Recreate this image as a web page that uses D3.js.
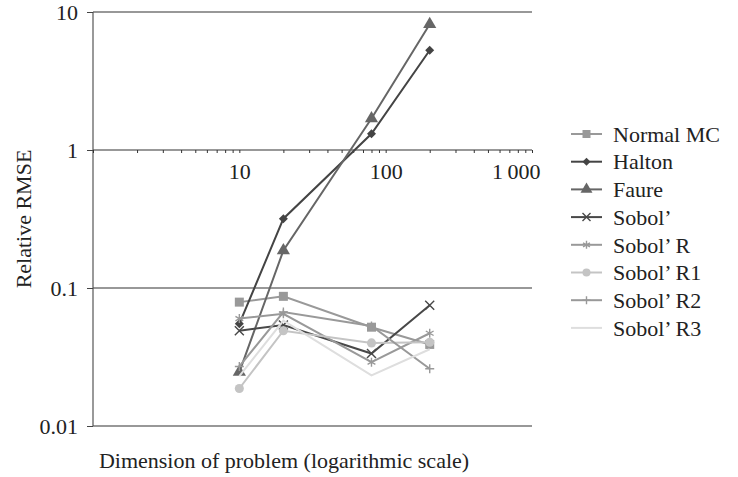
<!DOCTYPE html>
<html>
<head>
<meta charset="utf-8">
<script src="https://cdn.jsdelivr.net/npm/d3@7"></script>
</head>
<body style="margin:0;background:#fff">
<svg id="chart" width="738" height="477" style="font-family:'Liberation Serif';font-size:22px"></svg>
<script>
  // problem dimensions (x) and relative RMSE per method
  const dims = [10, 20, 80, 200];
  const normalMC = [0.079, 0.087, 0.052, 0.039];
  const halton = [0.055, 0.318, 1.31, 5.28];
  const faure = [0.0246, 0.187, 1.69, 8.15];
  const sobol = [0.049, 0.054, 0.0335, 0.075];
  const sobolR = [0.06, 0.065, 0.029, 0.047];
  const sobolR1 = [0.0187, 0.049, 0.04, 0.0405];
  const sobolR2 = [0.027, 0.067, 0.053, 0.026];
  const sobolR3 = [0.023, 0.058, 0.0233, 0.036];

  const xTicks = [10, 100, 1000];
  const xTickLabels = ["10", "100", "1\u2009000"];
  const yTicks = [10, 1, 0.1, 0.01];
  const yTickLabels = ["10", "1", "0.1", "0.01"];

  const series = [
    { name: "Normal MC", values: normalMC, color: "#999", marker: "square" },
    { name: "Halton", values: halton, color: "#444", marker: "diamond" },
    { name: "Faure", values: faure, color: "#666", marker: "triangle" },
    { name: "Sobol\u2019", values: sobol, color: "#484848", marker: "x" },
    { name: "Sobol\u2019 R", values: sobolR, color: "#999", marker: "asterisk" },
    { name: "Sobol\u2019 R1", values: sobolR1, color: "#c4c4c4", marker: "circle" },
    { name: "Sobol\u2019 R2", values: sobolR2, color: "#999", marker: "plus" },
    { name: "Sobol\u2019 R3", values: sobolR3, color: "#dedede", marker: "none" }
  ];

  const plot = { left: 93, right: 532, top: 12, bottom: 426 };
  const textStyle = "font-family:'Liberation Serif';font-size:22px";

  const x = d3.scaleLog().domain([1, 1000]).range([plot.left, plot.right]);
  const y = d3.scaleLog().domain([0.01, 10]).range([plot.bottom, plot.top]);

  const svg = d3.select("#chart");

  const styleText = (sel) => sel.attr("style", textStyle).attr("fill", "#222");

  // horizontal grid at each decade
  svg.append("g")
    .selectAll("line")
    .data(yTicks)
    .enter()
    .append("line")
    .attr("x1", plot.left)
    .attr("x2", plot.right)
    .attr("y1", (d) => y(d))
    .attr("y2", (d) => y(d))
    .attr("stroke", "#333")
    .attr("stroke-width", 1.2);

  // y axis
  const yAxis = svg.append("g")
    .attr("transform", `translate(${plot.left},0)`)
    .call(d3.axisLeft(y).tickValues(yTicks)
      .tickFormat((d, i) => yTickLabels[i]).tickSize(6).tickPadding(9));
  yAxis.attr("font-family", null).attr("font-size", null);
  yAxis.select(".domain").attr("stroke", "#555").attr("stroke-width", 1.2)
    .attr("d", `M0,${plot.top}V${plot.bottom}`);
  yAxis.selectAll(".tick line").attr("stroke", "#444");
  yAxis.selectAll("text").call(styleText);

  // x axis crosses at y = 1
  const minorTicks = x.ticks().filter((d) => d >= 1);
  const xAxis = svg.append("g")
    .attr("transform", `translate(0,${y(1)})`)
    .call(d3.axisBottom(x).tickValues(minorTicks)
      .tickFormat((d) => {
        const i = xTicks.indexOf(d);
        return i >= 0 ? xTickLabels[i] : "";
      }).tickSize(3).tickPadding(10));
  xAxis.attr("font-family", null).attr("font-size", null);
  xAxis.select(".domain").remove();
  xAxis.selectAll(".tick line").attr("stroke", "#333");
  xAxis.selectAll("text").call(styleText);
  xAxis.selectAll(".tick text")
    .filter((d) => d === 1000)
    .attr("text-anchor", "end")
    .attr("dx", 8);

  // series lines
  const line = d3.line()
    .x((d) => x(d.dim))
    .y((d) => y(d.value));

  const markerPath = (type, s) => {
    const h = s / 2;
    switch (type) {
      case "square":
        return d3.symbol(d3.symbolSquare, s * s)();
      case "diamond":
        return `M0,${-h}L${h},0L0,${h}L${-h},0Z`;
      case "triangle":
        return d3.symbol(d3.symbolTriangle, s * s * 0.62)();
      case "circle":
        return d3.symbol(d3.symbolCircle, s * s * 0.8)();
      case "x":
        return `M${-h},${-h}L${h},${h}M${-h},${h}L${h},${-h}`;
      case "plus":
        return `M${-h},0L${h},0M0,${-h}L0,${h}`;
      case "asterisk": {
        const a = h * 0.866, b = h * 0.5;
        return `M0,${-h}L0,${h}M${-a},${-b}L${a},${b}M${-a},${b}L${a},${-b}`;
      }
      default:
        return "";
    }
  };
  const isStroke = (t) => t === "x" || t === "plus" || t === "asterisk";

  const drawMarker = (g, s, size) => {
    if (s.marker === "none") return;
    g.attr("d", markerPath(s.marker, size))
      .attr("fill", isStroke(s.marker) ? "none" : s.color)
      .attr("stroke", isStroke(s.marker) ? s.color : "none")
      .attr("stroke-width", 1.4);
  };

  series.forEach((s) => {
    const data = dims.map((d, i) => ({ dim: d, value: s.values[i] }));
    svg.append("path")
      .datum(data)
      .attr("fill", "none")
      .attr("stroke", s.color)
      .attr("stroke-width", 2)
      .attr("d", line);

    svg.append("g")
      .selectAll("path")
      .data(data)
      .enter()
      .append("path")
      .attr("transform", (d) => `translate(${x(d.dim)},${y(d.value)})`)
      .each(function () {
        drawMarker(d3.select(this), s, s.marker === "triangle" ? 11 : 9);
      });
  });

  // legend
  const legend = svg.append("g").attr("transform", "translate(571,134)");
  series.forEach((s, i) => {
    const row = legend.append("g").attr("transform", `translate(0,${i * 27.7})`);
    row.append("line")
      .attr("x1", 0).attr("x2", 31)
      .attr("stroke", s.color)
      .attr("stroke-width", 2);
    row.append("path")
      .attr("transform", "translate(15.5,0)")
      .call((g) => drawMarker(g, s, s.marker === "triangle" ? 10 : 8));
    row.append("text")
      .attr("x", 42)
      .attr("dy", "0.35em")
      .call(styleText)
      .text(s.name);
  });

  // axis titles
  svg.append("text")
    .attr("x", 284)
    .attr("y", 468)
    .attr("text-anchor", "middle")
    .call(styleText)
    .text("Dimension of problem (logarithmic scale)");

  svg.append("text")
    .attr("transform", `translate(31,${(plot.top + plot.bottom) / 2}) rotate(-90)`)
    .attr("text-anchor", "middle")
    .call(styleText)
    .text("Relative RMSE");
</script>
</body>
</html>
